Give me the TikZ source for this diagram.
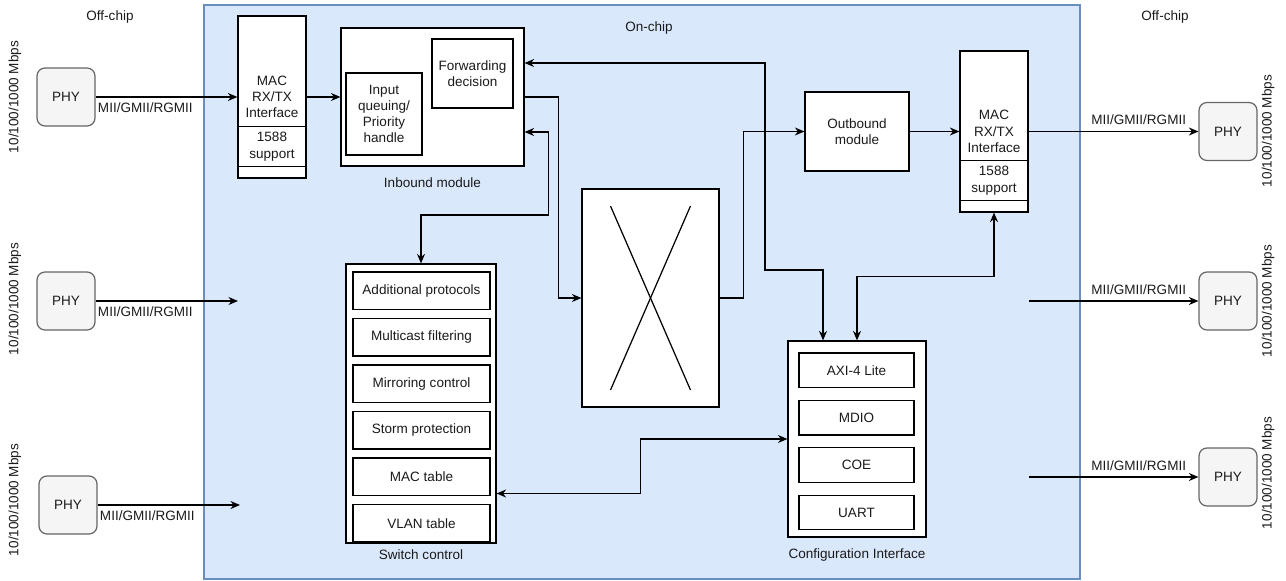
\documentclass[tikz,border=0pt]{standalone}
\usepackage{fontspec}
\setmainfont{Liberation Sans}
\usetikzlibrary{positioning,arrows.meta}
\definecolor{chipfill}{HTML}{DAE8FC}
\definecolor{chipline}{HTML}{6C8EBF}
\definecolor{phyfill}{HTML}{F5F5F5}
\definecolor{phyline}{HTML}{666666}
\definecolor{ink}{HTML}{1A1A1A}

\begin{document}
\begin{tikzpicture}[x=0.02cm, y=-0.02cm,
  every node/.style={font=\fontsize{7.7}{9.2}\selectfont, text=ink},
  block/.style={draw=black, fill=white, line width=0.7pt, align=center, inner sep=1pt},
  physbox/.style={draw=phyline, fill=phyfill, rounded corners=1.6mm, line width=0.7pt, minimum width=11.6mm, minimum height=11.6mm},
  subbox/.style={block, minimum width=27.4mm, minimum height=7.5mm},
  cfgbox/.style={block, minimum width=23mm, minimum height=6.9mm},
  link/.style={-{Stealth[length=1.9mm,width=1.6mm]}, line width=0.7pt},
  bilink/.style={{Stealth[length=1.9mm,width=1.6mm]}-{Stealth[length=1.9mm,width=1.6mm]}, line width=0.7pt},
  wire/.style={anchor=north west, pos=0, inner xsep=1pt, inner ysep=3pt},
  wirer/.style={anchor=south east, pos=1, inner xsep=1pt, inner ysep=3.5pt, xshift=-2mm},
  speed/.style={rotate=90}]
\useasboundingbox (0,0) rectangle (1286,581);

% chip area
\fill[chipfill, draw=chipline, line width=0.7pt] (204,5) rectangle (1080,579);
\node (offl) at (110,17) {Off-chip};
\node (offr) at (1165,17) {Off-chip};
\node (onchip) at (649,28) {On-chip};

% off-chip PHYs
\node[physbox] (phyl1) at (66,97) {PHY};
\node[physbox] (phyl2) at (66,301) {PHY};
\node[physbox] (phyl3) at (68,505) {PHY};
\node[physbox] (phyr1) at (1228,131.5) {PHY};
\node[physbox] (phyr2) at (1228,301) {PHY};
\node[physbox] (phyr3) at (1228,477) {PHY};
\node[speed] (spl1) at (15,97) {10/100/1000 Mbps};
\node[speed] (spl2) at (15,299) {10/100/1000 Mbps};
\node[speed] (spl3) at (15,500) {10/100/1000 Mbps};
\node[speed] (spr1) at (1268,131) {10/100/1000 Mbps};
\node[speed] (spr2) at (1268,301) {10/100/1000 Mbps};
\node[speed] (spr3) at (1268,473) {10/100/1000 Mbps};

% MAC interfaces
\node[block, minimum width=13.6mm, minimum height=32.4mm] (macl) at (272,97) {MAC\\RX/TX\\Interface};
\draw[line width=0.7pt] ([yshift=10.4mm]macl.south west) -- ([yshift=10.4mm]macl.south east);
\draw[line width=0.7pt] ([yshift=2.4mm]macl.south west) -- ([yshift=2.4mm]macl.south east);
\node[align=center] (ptpl) at ([yshift=6.4mm]macl.south) {1588\\support};
\node[block, minimum width=13.6mm, minimum height=32.2mm] (macr) at (994,131.5) {MAC\\RX/TX\\Interface};
\draw[line width=0.7pt] ([yshift=10.4mm]macr.south west) -- ([yshift=10.4mm]macr.south east);
\draw[line width=0.7pt] ([yshift=2.4mm]macr.south west) -- ([yshift=2.4mm]macr.south east);
\node[align=center] (ptpr) at ([yshift=6.4mm]macr.south) {1588\\support};

% inbound module
\node[block, minimum width=36.6mm, minimum height=27.6mm] (inbound) at (432.5,97) {};
\node[block, minimum width=15.2mm, minimum height=16.4mm] (inq) at (384,114) {Input\\queuing/\\Priority\\handle};
\node[block, minimum width=16.2mm, minimum height=13.8mm] (fwd) at (472.5,73.5) {Forwarding\\decision};
\node[below=1mm of inbound] (inlbl) {Inbound module};

% crossbar
\node[block, minimum width=27.4mm, minimum height=43.6mm] (xbar) at (650.5,298) {};
\draw[line width=0.7pt] (xbar.center) ++(-40,-92) -- ++(80,184);
\draw[line width=0.7pt] (xbar.center) ++(40,-92) -- ++(-80,184);

% outbound module
\node[block, minimum width=20.8mm, minimum height=15.8mm] (outbound) at (857,131.5) {Outbound\\module};

% switch control
\node[block, minimum width=30mm, minimum height=55.8mm] (swctl) at (421,403.5) {};
\node[subbox] (sc1) at (421.5,290.75) {Additional protocols};
\node[subbox, below=1.56mm of sc1] (sc2) {Multicast filtering};
\node[subbox, below=1.56mm of sc2] (sc3) {Mirroring control};
\node[subbox, below=1.56mm of sc3] (sc4) {Storm protection};
\node[subbox, below=1.56mm of sc4] (sc5) {MAC table};
\node[subbox, below=1.56mm of sc5] (sc6) {VLAN table};
\node[below=0pt of swctl] (swlbl) {Switch control};

% configuration interface
\node[block, minimum width=27.6mm, minimum height=39.2mm] (config) at (857,439) {};
\node[cfgbox] (cf1) at (856.5,370.25) {AXI-4 Lite};
\node[cfgbox, below=2.34mm of cf1] (cf2) {MDIO};
\node[cfgbox, below=2.34mm of cf2] (cf3) {COE};
\node[cfgbox, below=2.34mm of cf3] (cf4) {UART};
\node[below=1mm of config] (cflbl) {Configuration Interface};

% free ends
\coordinate (inl2) at (238,301);
\coordinate (inl3) at (240,505);
\coordinate (outr2) at (1029,301);
\coordinate (outr3) at (1029,477);

% connectors
\draw[link] (phyl1) -- node[wire] {MII/GMII/RGMII} (macl);
\draw[link] (phyl2) -- node[wire] {MII/GMII/RGMII} (inl2);
\draw[link] (phyl3) -- node[wire] {MII/GMII/RGMII} (inl3);
\draw[link] (macl) -- (inbound);
\draw[link] (inbound.east) -- ++(34,0) |- (xbar);
\draw[bilink] ([yshift=-7mm]inbound.east) -- ++(24,0) -- ++(0,83) -| (swctl);
\draw[link] (xbar.east) -- ++(24,0) |- (outbound);
\draw[link] (outbound) -- (macr);
\draw[link] (macr) -- node[wirer] {MII/GMII/RGMII} (phyr1);
\draw[link] (outr2) -- node[wirer] {MII/GMII/RGMII} (phyr2);
\draw[link] (outr3) -- node[wirer] {MII/GMII/RGMII} (phyr3);
\draw[bilink] ([yshift=6.8mm]inbound.east) -| (765,270) -| ([xshift=-6.8mm]config.north);
\draw[bilink] (macr.south) -- ++(0,64) -| (config);
\draw[bilink] ([yshift=-1.8cm]swctl.east) -- ++(144,0) |- (config);
\end{tikzpicture}
\end{document}
